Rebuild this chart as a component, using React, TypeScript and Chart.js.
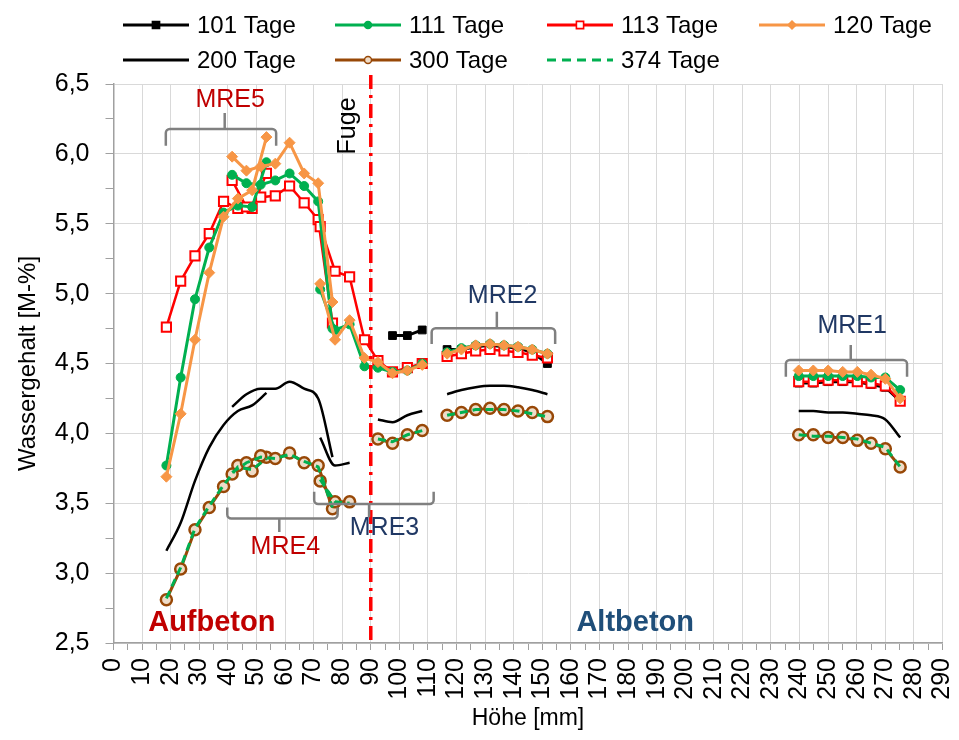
import React, { useEffect, useRef } from 'react';
import { Chart, registerables } from 'chart.js';

Chart.register(...registerables);

// ---------- measuring depths (mm) per sensor ----------
const X_MRE5 = [18.5, 23.5, 28.5, 33.5, 38.5, 43.5, 48.5, 53.5];
const X_MRE4 = [41.5, 46.5, 51.5, 56.6, 61.6, 66.7, 71.6, 76.6];
const X_MRE3 = [72.3, 77.5, 82.6, 87.8, 92.5, 97.6, 102.8, 108.0];
const X_MRE2 = [116.7, 121.7, 126.7, 131.7, 136.6, 141.5, 146.5, 151.8];
const X_MRE1 = [239.7, 244.8, 250.0, 255.1, 260.2, 265.0, 270.0, 275.2];

// ---------- 101 Tage ----------
const D101_MRE3 = [null, null, null, null, null, 4.70, 4.70, 4.74];
const D101_MRE2 = [4.60, 4.60, 4.62, 4.63, 4.62, 4.61, 4.58, 4.50];
const D101_MRE1 = [4.36, 4.36, 4.37, 4.37, 4.37, 4.35, 4.33, 4.23];

// ---------- 111 Tage ----------
const D111_MRE5 = [3.77, 4.40, 4.96, 5.33, 5.58, 5.63, 5.62, 5.94];
const D111_MRE4 = [5.85, 5.79, 5.78, 5.81, 5.86, 5.77, 5.66, 4.75];
const D111_MRE3 = [5.03, 4.74, 4.78, 4.48, 4.47, 4.44, 4.45, 4.50];
const D111_MRE2 = [4.58, 4.61, 4.63, 4.64, 4.63, 4.62, 4.60, 4.57];
const D111_MRE1 = [4.41, 4.41, 4.41, 4.41, 4.41, 4.40, 4.40, 4.31];

// ---------- 113 Tage ----------
const D113_MRE5 = [4.76, 5.09, 5.27, 5.43, 5.66, 5.61, 5.61, 5.86];
const D113_MRE4 = [5.81, 5.62, 5.69, 5.70, 5.77, 5.65, 5.53, 4.79];
const D113_MRE3 = [5.48, 5.16, 5.12, 4.67, 4.52, 4.44, 4.47, 4.50];
const D113_MRE2 = [4.55, 4.57, 4.59, 4.60, 4.59, 4.58, 4.56, 4.54];
const D113_MRE1 = [4.37, 4.37, 4.38, 4.38, 4.37, 4.36, 4.34, 4.23];

// ---------- 120 Tage ----------
const D120_MRE5 = [3.69, 4.14, 4.67, 5.15, 5.55, 5.68, 5.74, 6.12];
const D120_MRE4 = [5.98, 5.88, 5.91, 5.93, 6.08, 5.86, 5.79, 4.94];
const D120_MRE3 = [5.07, 4.67, 4.81, 4.54, 4.51, 4.43, 4.45, 4.49];
const D120_MRE2 = [4.57, 4.60, 4.63, 4.64, 4.63, 4.62, 4.60, 4.57];
const D120_MRE1 = [4.45, 4.45, 4.45, 4.44, 4.44, 4.42, 4.39, 4.25];

// ---------- 200 Tage ----------
const D200_MRE5 = [3.16, 3.36, 3.66, 3.90, 4.06, 4.16, 4.20, 4.29];
const D200_MRE4 = [4.19, 4.28, 4.32, 4.32, 4.37, 4.32, 4.25, 3.83];
const D200_MRE3 = [3.97, 3.77, 3.79, null, 4.10, 4.08, 4.13, 4.16];
const D200_MRE2 = [4.28, 4.31, 4.33, 4.34, 4.34, 4.33, 4.31, 4.28];
const D200_MRE1 = [4.16, 4.16, 4.15, 4.15, 4.14, 4.13, 4.10, 3.97];

// ---------- 300 Tage ----------
const D300_MRE5 = [2.81, 3.03, 3.31, 3.47, 3.62, 3.77, 3.73, 3.83];
const D300_MRE4 = [3.71, 3.79, 3.84, 3.82, 3.86, 3.79, 3.77, 3.46];
const D300_MRE3 = [3.66, 3.51, 3.51, null, 3.96, 3.93, 3.99, 4.02];
const D300_MRE2 = [4.13, 4.15, 4.17, 4.18, 4.17, 4.16, 4.15, 4.12];
const D300_MRE1 = [3.99, 3.99, 3.97, 3.97, 3.95, 3.93, 3.89, 3.76];

// ---------- 374 Tage ----------
const D374_MRE5 = [2.82, 3.04, 3.32, 3.48, 3.63, 3.76, 3.74, 3.82];
const D374_MRE4 = [3.72, 3.79, 3.83, 3.82, 3.85, 3.80, 3.76, 3.47];
const D374_MRE3 = [3.67, 3.51, 3.50, null, 3.96, 3.94, 3.99, 4.02];
const D374_MRE2 = [4.13, 4.15, 4.17, 4.17, 4.17, 4.16, 4.14, 4.12];
const D374_MRE1 = [3.99, 3.98, 3.98, 3.97, 3.96, 3.93, 3.90, 3.76];

// ---------- axes ----------
const X_MIN = 0, X_MAX = 290, X_STEP = 5, X_LABEL_EVERY = 10;
const Y_MIN = 2.5, Y_MAX = 6.5, Y_STEP = 0.25;
const FUGE_X = 90;

type Seg = [number[], (number | null)[]];
function toPoints(segs: Seg[]) {
  const pts: { x: number; y: number | null }[] = [];
  segs.forEach(([xs, ys], k) => {
    if (k > 0) pts.push({ x: xs[0], y: null });
    xs.forEach((x, i) => pts.push({ x, y: ys[i] }));
  });
  return pts;
}

const FONT = "'Liberation Sans', Arial, sans-serif";
const GREEN = '#00b050';
const RED = '#ff0000';
const ORANGE = '#f79646';
const BROWN = '#984807';
const DARKRED = '#c00000';
const NAVY = '#203864';

const SERIES = [
  {
    label: '101 Tage',
    data: toPoints([[X_MRE3, D101_MRE3], [X_MRE2, D101_MRE2], [X_MRE1, D101_MRE1]]),
    borderColor: '#000000', borderWidth: 3, pointStyle: 'rect', pointRadius: 5.5,
    pointBackgroundColor: '#000000', pointBorderColor: '#000000', pointBorderWidth: 1, order: 6,
  },
  {
    label: '111 Tage',
    data: toPoints([[X_MRE5, D111_MRE5], [X_MRE4, D111_MRE4], [X_MRE3, D111_MRE3], [X_MRE2, D111_MRE2], [X_MRE1, D111_MRE1]]),
    borderColor: GREEN, borderWidth: 3, pointStyle: 'circle', pointRadius: 4.5,
    pointBackgroundColor: GREEN, pointBorderColor: GREEN, pointBorderWidth: 1, order: 4,
  },
  {
    label: '113 Tage',
    data: toPoints([[X_MRE5, D113_MRE5], [X_MRE4, D113_MRE4], [X_MRE3, D113_MRE3], [X_MRE2, D113_MRE2], [X_MRE1, D113_MRE1]]),
    borderColor: RED, borderWidth: 2.5, pointStyle: 'rect', pointRadius: 6.5,
    pointBackgroundColor: '#ffffff', pointBorderColor: RED, pointBorderWidth: 2, order: 5,
  },
  {
    label: '120 Tage',
    data: toPoints([[X_MRE5, D120_MRE5], [X_MRE4, D120_MRE4], [X_MRE3, D120_MRE3], [X_MRE2, D120_MRE2], [X_MRE1, D120_MRE1]]),
    borderColor: ORANGE, borderWidth: 3, pointStyle: 'rectRot', pointRadius: 5.5,
    pointBackgroundColor: ORANGE, pointBorderColor: ORANGE, pointBorderWidth: 1, order: 1,
  },
  {
    label: '200 Tage',
    data: toPoints([[X_MRE5, D200_MRE5], [X_MRE4, D200_MRE4], [X_MRE3, D200_MRE3], [X_MRE2, D200_MRE2], [X_MRE1, D200_MRE1]]),
    borderColor: '#000000', borderWidth: 2.5, pointRadius: 0, cubicInterpolationMode: 'monotone', order: 7,
  },
  {
    label: '300 Tage',
    data: toPoints([[X_MRE5, D300_MRE5], [X_MRE4, D300_MRE4], [X_MRE3, D300_MRE3], [X_MRE2, D300_MRE2], [X_MRE1, D300_MRE1]]),
    borderColor: BROWN, borderWidth: 3, pointStyle: 'circle', pointRadius: 5.5,
    pointBackgroundColor: '#efdcc8', pointBorderColor: BROWN, pointBorderWidth: 2.5, order: 3,
  },
  {
    label: '374 Tage',
    data: toPoints([[X_MRE5, D374_MRE5], [X_MRE4, D374_MRE4], [X_MRE3, D374_MRE3], [X_MRE2, D374_MRE2], [X_MRE1, D374_MRE1]]),
    borderColor: GREEN, borderWidth: 3, borderDash: [8, 5], pointRadius: 0, order: 2,
  },
];

// ---------- annotations (data units) ----------
const BRACKETS = [
  { name: 'MRE5', color: DARKRED, xs: 18.3, xe: 56.9, yLine: 6.178, yLeg: 6.058, xTip: 38.9, yTip: 6.292, tx: 40.8, ty: 6.383 },
  { name: 'MRE4', color: DARKRED, xs: 39.8, xe: 78.4, yLine: 3.391, yLeg: 3.47, xTip: 58.0, yTip: 3.295, tx: 60.1, ty: 3.186 },
  { name: 'MRE3', color: NAVY, xs: 70.2, xe: 112.0, yLine: 3.494, yLeg: 3.582, xTip: 89.4, yTip: 3.40, tx: 94.8, ty: 3.322 },
  { name: 'MRE2', color: NAVY, xs: 111.3, xe: 154.5, yLine: 4.752, yLeg: 4.64, xTip: 134.1, yTip: 4.871, tx: 136.1, ty: 4.985 },
  { name: 'MRE1', color: NAVY, xs: 235.2, xe: 277.6, yLine: 4.525, yLeg: 4.405, xTip: 257.9, yTip: 4.633, tx: 258.4, ty: 4.77 },
];

function drawMarker(ctx: CanvasRenderingContext2D, style: string, x: number, y: number, r: number, fill: string, stroke: string, lw: number) {
  ctx.save();
  ctx.beginPath();
  if (style === 'rect') ctx.rect(x - r, y - r, 2 * r, 2 * r);
  else if (style === 'circle') ctx.arc(x, y, r, 0, Math.PI * 2);
  else if (style === 'rectRot') {
    ctx.moveTo(x, y - r); ctx.lineTo(x + r, y); ctx.lineTo(x, y + r); ctx.lineTo(x - r, y); ctx.closePath();
  }
  ctx.fillStyle = fill;
  ctx.fill();
  ctx.lineWidth = lw;
  ctx.strokeStyle = stroke;
  ctx.stroke();
  ctx.restore();
}

const legendPlugin = {
  id: 'customLegend',
  afterDraw(chart: any) {
    const ctx: CanvasRenderingContext2D = chart.ctx;
    const rows = [17, 52];
    chart.data.datasets.forEach((ds: any, i: number) => {
      const row = i < 4 ? 0 : 1;
      const col = i < 4 ? i : i - 4;
      const x0 = 115 + col * 212;
      const y = rows[row];
      ctx.save();
      ctx.strokeStyle = ds.borderColor;
      ctx.lineWidth = 3;
      ctx.setLineDash(ds.borderDash ? [9, 6] : []);
      ctx.beginPath();
      ctx.moveTo(x0, y);
      ctx.lineTo(x0 + 66, y);
      ctx.stroke();
      ctx.setLineDash([]);
      if (ds.pointRadius > 0) {
        const r = ds.pointStyle === 'rect' ? 3.6 : ds.pointStyle === 'rectRot' ? 4 : 3.5;
        drawMarker(ctx, ds.pointStyle, x0 + 33, y, r, ds.pointBackgroundColor, ds.pointBorderColor, ds.pointStyle === 'rect' && ds.pointBackgroundColor === '#ffffff' ? 1.6 : 1.5);
      }
      ctx.fillStyle = '#000';
      ctx.font = `24px ${FONT}`;
      ctx.textBaseline = 'middle';
      ctx.textAlign = 'left';
      ctx.fillText(ds.label, x0 + 74, y + 1);
      ctx.restore();
    });
  },
};

const annotationPlugin = {
  id: 'annots',
  afterDatasetsDraw(chart: any) {
    const ctx: CanvasRenderingContext2D = chart.ctx;
    const xs = chart.scales.x;
    const ys = chart.scales.y;
    const area = chart.chartArea;
    const px = (v: number) => xs.getPixelForValue(v);
    const py = (v: number) => ys.getPixelForValue(v);

    // Fuge line
    ctx.save();
    ctx.strokeStyle = RED;
    ctx.lineWidth = 3.5;
    ctx.setLineDash([14, 6, 3, 6]);
    ctx.beginPath();
    ctx.moveTo(px(FUGE_X), area.top - 9);
    ctx.lineTo(px(FUGE_X), area.bottom);
    ctx.stroke();
    ctx.restore();

    // brackets
    BRACKETS.forEach((b) => {
      ctx.save();
      ctx.strokeStyle = '#808080';
      ctx.lineWidth = 2.5;
      ctx.lineJoin = 'round';
      ctx.beginPath();
      const yl = py(b.yLine);
      const rr = 4;
      ctx.moveTo(px(b.xs), py(b.yLeg));
      ctx.arcTo(px(b.xs), yl, px(b.xs) + rr, yl, rr);
      ctx.arcTo(px(b.xe), yl, px(b.xe), py(b.yLeg), rr);
      ctx.lineTo(px(b.xe), py(b.yLeg));
      ctx.moveTo(px(b.xTip), yl);
      ctx.lineTo(px(b.xTip), py(b.yTip));
      ctx.stroke();
      ctx.fillStyle = b.color;
      ctx.font = `25px ${FONT}`;
      ctx.textAlign = 'center';
      ctx.textBaseline = 'middle';
      ctx.fillText(b.name, px(b.tx), py(b.ty));
      ctx.restore();
    });

    // Fuge text
    ctx.save();
    ctx.translate(px(82.1), py(6.2));
    ctx.rotate(-Math.PI / 2);
    ctx.fillStyle = '#000';
    ctx.font = `25px ${FONT}`;
    ctx.textAlign = 'center';
    ctx.textBaseline = 'middle';
    ctx.fillText('Fuge', 0, 0);
    ctx.restore();

    // Aufbeton / Altbeton
    ctx.save();
    ctx.font = `bold 29px ${FONT}`;
    ctx.textAlign = 'center';
    ctx.textBaseline = 'middle';
    ctx.fillStyle = DARKRED;
    ctx.fillText('Aufbeton', px(34.4), py(2.64));
    ctx.fillStyle = '#1f4e79';
    ctx.fillText('Altbeton', px(182.5), py(2.64));
    ctx.restore();
  },
};

export default function App() {
  const ref = useRef<HTMLCanvasElement | null>(null);
  useEffect(() => {
    if (!ref.current) return;
    Chart.defaults.font.family = FONT;
    const chart = new Chart(ref.current, {
      type: 'line',
      data: { datasets: SERIES as any },
      options: {
        animation: false,
        responsive: true,
        maintainAspectRatio: false,
        events: [],
        spanGaps: false,
        layout: { padding: { top: 76, right: 5, left: 0, bottom: 0 } },
        plugins: { legend: { display: false }, tooltip: { enabled: false } },
        elements: { line: { tension: 0 } },
        scales: {
          x: {
            type: 'linear',
            min: X_MIN,
            max: X_MAX,
            border: { display: true, color: '#a0a0a0', width: 1.5 },
            grid: {
              color: (c: any) => (c.tick && c.tick.value % X_LABEL_EVERY === 0 ? '#d9d9d9' : 'rgba(0,0,0,0)'),
              tickColor: '#a0a0a0',
              tickLength: 7,
              lineWidth: 1,
            },
            ticks: {
              stepSize: X_STEP,
              autoSkip: false,
              minRotation: 90,
              maxRotation: 90,
              padding: 8,
              color: '#000',
              font: { size: 25, family: FONT },
              callback: (v: any) => (Number(v) % X_LABEL_EVERY === 0 ? String(v) : ''),
            },
            title: { display: true, text: 'Höhe [mm]', color: '#000', font: { size: 23, family: FONT }, padding: { top: 0, bottom: 0 } },
            afterFit: (s: any) => { s.height = 89; s.paddingLeft = 0; s.paddingRight = 0; },
          },
          y: {
            type: 'linear',
            min: Y_MIN,
            max: Y_MAX,
            border: { display: true, color: '#a0a0a0', width: 1.5 },
            grid: {
              color: (c: any) => (c.tick && Math.abs(c.tick.value * 2 - Math.round(c.tick.value * 2)) < 1e-6 ? '#d9d9d9' : 'rgba(0,0,0,0)'),
              tickColor: '#a0a0a0',
              tickLength: 8,
              lineWidth: 1,
            },
            ticks: {
              stepSize: Y_STEP,
              autoSkip: false,
              padding: 16,
              color: '#000',
              font: { size: 25, family: FONT },
              callback: (v: any) => {
                const n = Number(v);
                return Math.abs(n * 2 - Math.round(n * 2)) < 1e-6 ? n.toFixed(1).replace('.', ',') : '';
              },
            },
            title: { display: true, text: 'Wassergehalt [M-%]', color: '#000', font: { size: 24, family: FONT }, padding: { top: 6, bottom: 0 } },
            afterFit: (s: any) => { s.width = 105.5; },
          },
        },
      } as any,
      plugins: [legendPlugin, annotationPlugin],
    });
    return () => chart.destroy();
  }, []);
  return (
    <div style={{ width: 943, height: 724, position: 'relative' }}>
      <canvas ref={ref} />
    </div>
  );
}
